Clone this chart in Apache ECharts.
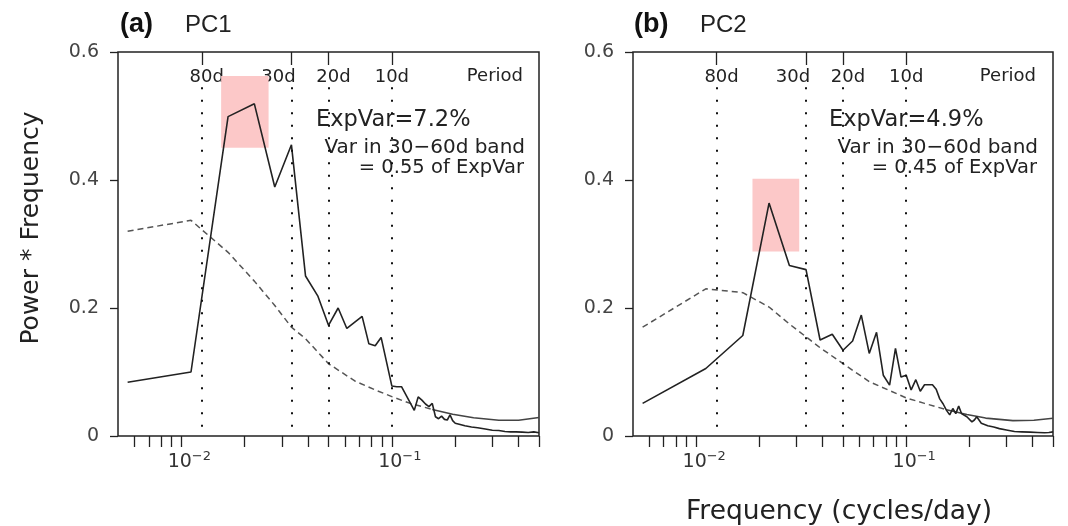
<!DOCTYPE html>
<html><head><meta charset="utf-8">
<script src="https://cdn.jsdelivr.net/npm/echarts@6/dist/echarts.min.js"></script>
<style>html,body{margin:0;padding:0;background:#fff}#c{width:1068px;height:526px}</style>
</head><body><div id="c"></div>
<script>
// ---------------- data ----------------
const recordLength = 180; // days: frequency = harmonic / recordLength

const pc1K     = [1,2,3,4,5,6,7,8,9,10,11,13,14,15,16,18,19,20,23,24,25,26,27,28,29,30,31,32,33,34,35,36,38,40,43,46,50,54,58,62,66,70,75,80,85,90];
const pc1Power = [0.084,0.100,0.499,0.519,0.389,0.455,0.250,0.219,0.173,0.200,0.168,0.187,0.144,0.141,0.154,0.078,0.077,0.077,0.040,0.061,0.056,0.050,0.046,0.051,0.030,0.027,0.031,0.026,0.025,0.033,0.024,0.020,0.018,0.016,0.014,0.013,0.011,0.009,0.0085,0.007,0.0065,0.0065,0.006,0.0055,0.0065,0.005];
const pc1NoiseK = [1,2,3,4,5,6,7,9,12,15,18,22,28,35,44,58,72,90];
const pc1Noise  = [0.320,0.337,0.287,0.242,0.204,0.170,0.152,0.113,0.086,0.072,0.0615,0.051,0.0415,0.034,0.0285,0.0245,0.0245,0.029];

const pc2K     = [1,2,3,4,5,6,7,8,9,10,11,12,13,14,15,16,17,18,19,20,21,22,24,25,26,27,28,29,30,31,32,33,35,37,38,39,41,44,47,50,54,59,64,70,76,82,86,90];
const pc2Power = [0.051,0.1055,0.157,0.364,0.2665,0.260,0.150,0.159,0.134,0.1485,0.189,0.129,0.162,0.095,0.0795,0.137,0.092,0.095,0.072,0.088,0.070,0.080,0.080,0.073,0.058,0.050,0.040,0.033,0.043,0.035,0.047,0.035,0.030,0.022,0.025,0.030,0.020,0.016,0.014,0.0115,0.0095,0.007,0.0065,0.006,0.0055,0.005,0.0055,0.0065];
const pc2NoiseK = [1,2,3,4,5,6,7,9,12,15,18,22,28,35,43,58,73,90];
const pc2Noise  = [0.170,0.230,0.224,0.2015,0.175,0.155,0.138,0.113,0.085,0.071,0.0595,0.051,0.041,0.0335,0.028,0.024,0.0245,0.0278];

const periods = [80, 30, 20, 10];                // days, top axis
const freqTicks = [0.006,0.007,0.008,0.009,0.01,0.02,0.03,0.04,0.05,0.06,0.07,0.08,0.09,0.1,0.2,0.3,0.4,0.5];
const freqLabels = [0.01, 0.1];
const freqRange = [0.005, 0.5];
const powerTicks = ['0', '0.2', '0.4', '0.6'];
const bandA = [0.01545, 0.02596, 0.4505, 0.5626]; // fmin, fmax, ymin, ymax
const bandB = [0.01853, 0.03094, 0.2883, 0.402];
const panelTitles = ['(a)', '(b)'];
const panelNames = ['PC1', 'PC2'];
const expVar = ['ExpVar=7.2%', 'ExpVar=4.9%'];
const bandFrac = ['= 0.55 of ExpVar', '= 0.45 of ExpVar'];
const noiseSplitK = 28;
const dottedTop = 0.545;

// ---------------- helpers ----------------
const L = v => Math.log10(v);
const pts = (ks, vs) => ks.map((k, i) => [L(k / recordLength), vs[i]]);
const SANS = 'DejaVu Sans';
const INK = '#222';

const grids = [
  { left: 118, top: 52, width: 421, height: 384 },
  { left: 633, top: 52, width: 420, height: 384 }
];

function bottomAxis(gi) {
  return {
    type: 'value', gridIndex: gi, position: 'bottom',
    min: L(freqRange[0]), max: L(freqRange[1]),
    axisLine: { show: false },
    splitLine: { show: false },
    axisTick: { show: true, inside: false, length: 11, customValues: freqTicks.map(L),
      lineStyle: { color: INK, width: 1.3 } },
    axisLabel: {
      show: true, margin: 14, customValues: freqLabels.map(L),
      formatter: v => '{sp|}{b|10}{s|−' + Math.abs(Math.round(v)) + '}',
      rich: {
        sp: { width: 16 },
        b: { fontFamily: SANS, fontSize: 19, color: '#333' },
        s: { fontFamily: SANS, fontSize: 13, color: '#333', padding: [0, 0, 12, 0] }
      }
    }
  };
}
function topAxis(gi) {
  return {
    type: 'value', gridIndex: gi, position: 'top',
    min: L(freqRange[0]), max: L(freqRange[1]),
    axisLine: { show: false },
    splitLine: { show: false },
    axisTick: { show: true, inside: true, length: 13, customValues: periods.map(p => L(1 / p)),
      lineStyle: { color: INK, width: 1.3 } },
    axisLabel: {
      show: true, inside: true, margin: 16, customValues: periods.map(p => L(1 / p)),
      formatter: v => {
        const p = Math.round(Math.pow(10, -v));
        const st = p === 30 ? 'l' : (p === 10 ? 'c' : 'r');
        return '{' + st + '|' + p + 'd}';
      },
      rich: {
        l: { fontFamily: SANS, fontSize: 18, color: INK, padding: [0, 26, 0, 0] },
        r: { fontFamily: SANS, fontSize: 18, color: INK, padding: [0, 0, 0, 10] },
        c: { fontFamily: SANS, fontSize: 18, color: INK }
      }
    }
  };
}
function yAxis(gi) {
  return {
    type: 'value', gridIndex: gi, min: 0, max: 0.6, interval: 0.2,
    axisLine: { show: false },
    splitLine: { show: false },
    axisTick: { show: true, inside: false, length: 8, lineStyle: { color: INK, width: 1.3 } },
    axisLabel: { margin: 19, fontFamily: SANS, fontSize: 19, color: '#444',
      formatter: v => powerTicks[Math.round(v / 0.2)] }
  };
}

function panelSeries(gi, ks, vs, nks, nvs, band) {
  const xi = gi * 2, yi = gi;
  const noise = pts(nks, nvs);
  const head = noise.filter((p, i) => nks[i] <= noiseSplitK);
  const tail = noise.filter((p, i) => nks[i] >= noiseSplitK);
  return [
    {
      type: 'line', xAxisIndex: xi, yAxisIndex: yi, data: head, symbol: 'none', z: 2,
      lineStyle: { color: '#555', width: 1.5, type: [6, 4] },
      markArea: { silent: true, itemStyle: { color: '#fcc8c8', opacity: 1 },
        data: [[{ coord: [L(band[0]), band[3]] }, { coord: [L(band[1]), band[2]] }]] },
      markLine: { silent: true, symbol: 'none', label: { show: false },
        lineStyle: { color: '#111', width: 2, type: [2, 10.5] },
        data: periods.map(p => [{ coord: [L(1 / p), dottedTop] }, { coord: [L(1 / p), 0] }]) }
    },
    {
      type: 'line', xAxisIndex: xi, yAxisIndex: yi, data: tail, symbol: 'none', z: 3,
      lineStyle: { color: '#444', width: 1.6 }
    },
    {
      type: 'line', xAxisIndex: xi, yAxisIndex: yi, data: pts(ks, vs), symbol: 'none', z: 4,
      lineStyle: { color: INK, width: 1.6 }
    }
  ];
}

const texts = [];
function t(x, y, text, font, align, extra) {
  texts.push(Object.assign({ type: 'text', x: x, y: y, silent: true,
    style: Object.assign({ text: text, fill: INK, align: align || 'left', verticalAlign: 'middle' }, font) }, extra || {}));
}
const titleXs = [[120, 185], [634, 700]];
const infoX = [[316, 525], [829, 1038]];
for (let i = 0; i < 2; i++) {
  t(titleXs[i][0], 25, panelTitles[i], { fontFamily: 'Liberation Sans', fontWeight: 'bold', fontSize: 27, fill: '#111' });
  t(titleXs[i][1], 25, panelNames[i], { fontFamily: 'Liberation Sans', fontSize: 24, fill: '#222' });
  t(infoX[i][1] - 2, 76, 'Period', { fontFamily: SANS, fontSize: 18 }, 'right');
  t(infoX[i][0], 120, expVar[i], { fontFamily: SANS, fontSize: 22.5 });
  t(infoX[i][1], 148, 'Var in 30−60d band', { fontFamily: SANS, fontSize: 20 }, 'right');
  t(infoX[i][1] - 1, 168, bandFrac[i], { fontFamily: SANS, fontSize: 19.5 }, 'right');
}
t(839, 512, 'Frequency (cycles/day)', { fontFamily: SANS, fontSize: 26.5 }, 'center');
t(31, 228, 'Power * Frequency', { fontFamily: SANS, fontSize: 25 }, 'center', { rotation: Math.PI / 2 });

const chart = echarts.init(document.getElementById('c'), null, { renderer: 'canvas' });
chart.setOption({
  animation: false,
  backgroundColor: '#fff',
  grid: grids.map(g => Object.assign({ show: true, borderColor: INK, borderWidth: 1.5, backgroundColor: 'transparent' }, g)),
  xAxis: [bottomAxis(0), topAxis(0), bottomAxis(1), topAxis(1)],
  yAxis: [yAxis(0), yAxis(1)],
  series: [].concat(
    panelSeries(0, pc1K, pc1Power, pc1NoiseK, pc1Noise, bandA),
    panelSeries(1, pc2K, pc2Power, pc2NoiseK, pc2Noise, bandB)
  ),
  graphic: texts
});
</script></body></html>
